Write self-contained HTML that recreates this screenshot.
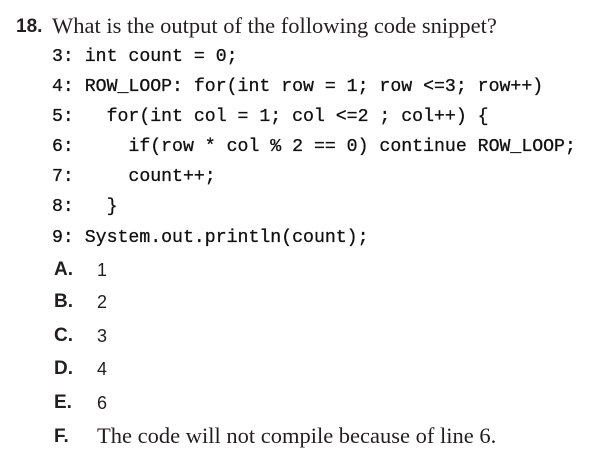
<!DOCTYPE html>
<html><head><style>
body{margin:0;width:606px;height:462px;background:#fff;position:relative;overflow:hidden;color:#231f20}
.t{position:absolute;white-space:pre;line-height:20px}
.s{font-family:"Liberation Serif",serif;font-size:22.5px}
.b{font-family:"Liberation Sans",sans-serif;font-weight:bold;font-size:19px}
.m{font-family:"Liberation Mono",monospace;font-size:18.2px;left:52px;color:#111;-webkit-text-stroke:0.3px #111}
.o{font-family:"Liberation Sans",sans-serif;font-size:18px;left:97px}
.l{left:54px}
</style></head><body>
<div class="t b" style="left:16px;top:17px">18.</div>
<div class="t s" style="left:52px;top:16px">What is the output of the following code snippet?</div>
<div class="t m" style="top:47px">3: int count = 0;</div>
<div class="t m" style="top:77px">4: ROW_LOOP: for(int row = 1; row &lt;=3; row++)</div>
<div class="t m" style="top:107px">5:   for(int col = 1; col &lt;=2 ; col++) {</div>
<div class="t m" style="top:137px">6:     if(row * col % 2 == 0) continue ROW_LOOP;</div>
<div class="t m" style="top:167px">7:     count++;</div>
<div class="t m" style="top:197px">8:   }</div>
<div class="t m" style="top:228px">9: System.out.println(count);</div>
<div class="t b l" style="top:260px">A.</div><div class="t o" style="top:260px">1</div>
<div class="t b l" style="top:292px">B.</div><div class="t o" style="top:292px">2</div>
<div class="t b l" style="top:326px">C.</div><div class="t o" style="top:326px">3</div>
<div class="t b l" style="top:359px">D.</div><div class="t o" style="top:359px">4</div>
<div class="t b l" style="top:393px">E.</div><div class="t o" style="top:393px">6</div>
<div class="t b l" style="top:427px">F.</div><div class="t s" style="left:97px;top:426px">The code will not compile because of line 6.</div>
</body></html>
